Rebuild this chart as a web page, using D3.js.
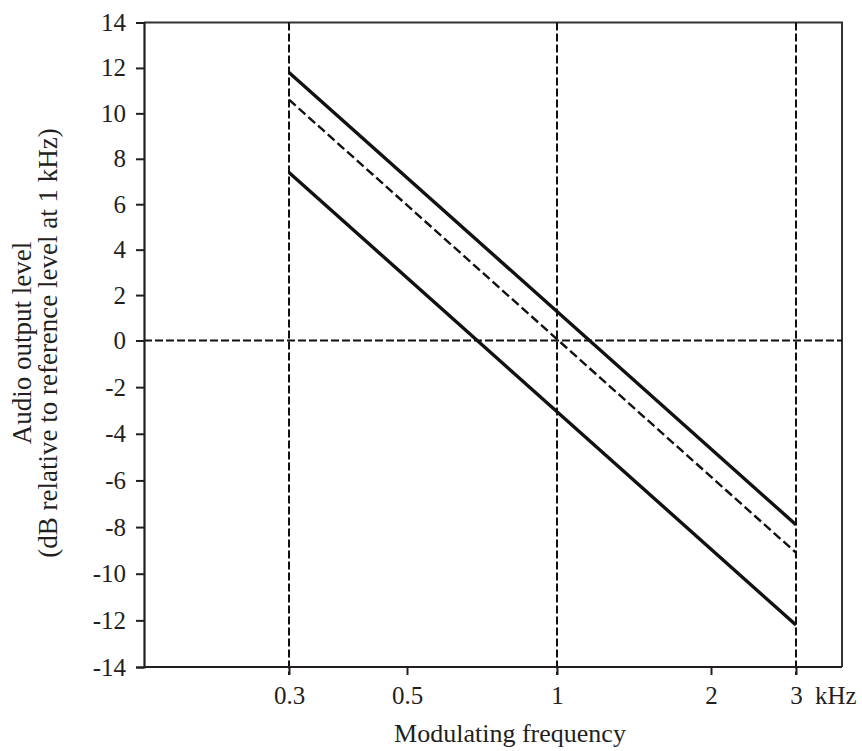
<!DOCTYPE html>
<html>
<head>
<meta charset="utf-8">
<script src="https://cdn.jsdelivr.net/npm/d3@7/dist/d3.min.js"></script>
<style>
    body { margin: 0; background: #fff; }
    svg { display: block; }
    text { font-family: "Liberation Serif", "Times New Roman", serif; fill: #231f20; }
</style>
</head>
<body>
<svg id="chart" width="862" height="751"></svg>
<script>
'use strict';
// values
var levelTicks = [-14, -12, -10, -8, -6, -4, -2, 0, 2, 4, 6, 8, 10, 12, 14];
var freqTicks = [0.3, 0.5, 1, 2, 3];
var freqTickLabels = ['0.3', '0.5', '1', '2', '3'];
var gridFreqs = [0.3, 1, 3];
var gridLevels = [0];
var lineFreqs = [0.3, 3];
var upperLevels = [11.8, -7.9];
var nominalLevels = [10.6, -9.1];
var lowerLevels = [7.4, -12.2];

var svg = d3.select('#chart');
var frame = {left: 144, right: 842, top: 22.5, bottom: 667};

// the original axes are not spaced quite evenly, so pin a few points
var x = d3.scaleLog().domain(freqTicks).range([289, 407, 557, 711, 796]);
var y = d3.scaleLinear().domain([-14, 0, 14]).range([frame.bottom, 340.5, frame.top]);

// frame (top + right)
svg.append('path')
        .attr('d', 'M' + frame.left + ',' + frame.top + 'H' + frame.right + 'V' + frame.bottom)
        .attr('fill', 'none')
        .attr('stroke', '#333')
        .attr('stroke-width', 2);

// dashed grid
svg.selectAll('.vgrid').data(gridFreqs).enter().append('line')
        .attr('class', 'vgrid')
        .attr('x1', function (d) { return x(d); })
        .attr('x2', function (d) { return x(d); })
        .attr('y1', frame.top)
        .attr('y2', frame.bottom + 8)
        .attr('stroke', '#111')
        .attr('stroke-width', 2)
        .attr('stroke-dasharray', '8,3');
svg.selectAll('.hgrid').data(gridLevels).enter().append('line')
        .attr('class', 'hgrid')
        .attr('x1', frame.left)
        .attr('x2', frame.right)
        .attr('y1', function (d) { return y(d); })
        .attr('y2', function (d) { return y(d); })
        .attr('stroke', '#111')
        .attr('stroke-width', 2)
        .attr('stroke-dasharray', '8,3');

// y axis
var yAxis = d3.axisLeft(y).tickValues(levelTicks).tickSize(8).tickPadding(10)
        .tickFormat(function (d) { return d < 0 ? '-' + Math.abs(d) : d; });
var gy = svg.append('g').attr('transform', 'translate(' + frame.left + ',0)').call(yAxis);
gy.select('.domain').attr('stroke', '#231f20').attr('stroke-width', 2.2);
gy.selectAll('.tick line').attr('stroke', '#231f20').attr('stroke-width', 2);
gy.selectAll('.tick text').attr('font-size', 25).attr('font-family', null);

// x axis
var xAxis = d3.axisBottom(x).tickValues(freqTicks).tickSize(8).tickPadding(11)
        .tickFormat(function (d, i) { return freqTickLabels[i]; });
var gx = svg.append('g').attr('transform', 'translate(0,' + frame.bottom + ')').call(xAxis);
gx.select('.domain').remove();
gx.append('line').attr('x1', frame.left).attr('x2', frame.right)
        .attr('stroke', '#231f20').attr('stroke-width', 2.2);
gx.selectAll('.tick line').attr('stroke', '#231f20').attr('stroke-width', 2);
gx.selectAll('.tick text').attr('font-size', 25).attr('font-family', null);
gx.append('text')
        .attr('x', x(3) + 19)
        .attr('y', 19)
        .attr('dy', '0.71em')
        .attr('font-size', 25)
        .attr('text-anchor', 'start')
        .text('kHz');

// response lines
var line = d3.line()
        .x(function (d) { return x(d[0]); })
        .y(function (d) { return y(d[1]); });
var series = [
    {levels: upperLevels, dash: null, width: 3.4},
    {levels: nominalLevels, dash: '9,4', width: 2.4},
    {levels: lowerLevels, dash: null, width: 3.4}
];
svg.selectAll('.series').data(series).enter().append('path')
        .attr('class', 'series')
        .attr('fill', 'none')
        .attr('stroke', '#111')
        .attr('stroke-width', function (d) { return d.width; })
        .attr('stroke-dasharray', function (d) { return d.dash; })
        .attr('d', function (d) { return line(d3.zip(lineFreqs, d.levels)); });

// axis titles
svg.append('text')
        .attr('x', 510)
        .attr('y', 742)
        .attr('font-size', 26)
        .attr('text-anchor', 'middle')
        .text('Modulating frequency');
var yTitle = svg.append('text')
        .attr('transform', 'translate(0,' + 343 + ') rotate(-90)')
        .attr('font-size', 27)
        .attr('text-anchor', 'middle');
yTitle.append('tspan').attr('x', 0).attr('y', 31).text('Audio output level');
yTitle.append('tspan').attr('x', 0).attr('y', 57).text('(dB relative to reference level at 1 kHz)');
</script>
</body>
</html>
